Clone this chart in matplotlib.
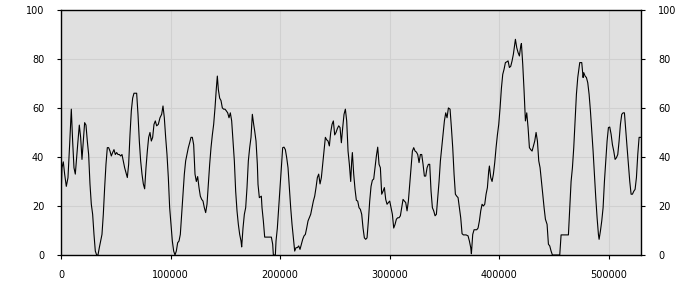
import numpy as np
import matplotlib
matplotlib.use("Agg")
import matplotlib.pyplot as plt

# Positions along the x axis (thousands) and the plotted value
x_k = [0, 0.91, 2.13, 3.35, 4.87, 6.39, 7.91, 9.44, 10.65, 11.87, 13.09, 14.30, 15.52, 16.74, 17.96,
       19.18, 20.39, 21.61, 22.83, 24.05, 25.26, 26.48, 27.70, 28.92, 30.14, 31.35, 32.57, 33.79, 35.01,
       36.22, 37.44, 38.66, 39.88, 41.09, 42.31, 43.53, 44.75, 45.96, 47.18, 48.40, 49.62, 50.83, 52.05,
       53.27, 54.49, 55.70, 56.92, 58.14, 59.36, 60.58, 61.79, 63.01, 64.23, 65.45, 66.66, 67.88, 69.10,
       70.32, 71.53, 72.75, 73.97, 75.19, 76.40, 77.62, 78.84, 80.06, 81.27, 82.49, 83.71, 84.93, 86.14,
       87.36,
       88.88, 90.41, 91.93, 93.15, 94.36, 95.58, 96.80, 98.02, 99.23, 100.45, 101.67, 102.89, 104.10,
       105.32, 106.54, 107.76, 108.97, 110.19, 111.41, 112.63, 113.84, 115.06, 116.28, 117.50, 118.72,
       119.93, 121.15, 122.37, 123.59, 124.80, 126.02, 127.24, 128.46, 129.67, 130.89, 132.11, 133.33,
       134.54, 135.76, 136.98, 138.20, 139.41, 140.63, 141.85, 142.76, 143.68, 144.89, 146.11, 147.33,
       148.55, 149.76, 150.98, 152.20, 153.42, 154.63, 155.85, 157.07, 158.29, 159.50, 160.72, 161.94,
       163.16, 164.38, 164.98, 166.20, 167.42, 168.64, 169.85, 171.07, 172.29, 173.51, 174.72, 175.94,
       176.86, 178.07, 179.29, 179.90, 181.12, 182.94, 183.55, 184.77, 185.99, 189.64, 192.08, 193.29,
       193.90, 195.73, 196.34, 197.55, 198.77, 199.99, 201.21, 202.42, 203.64, 204.86, 206.08, 207.30,
       208.51, 209.73, 210.95, 212.17, 213.38, 214.60, 215.82, 217.04, 218.25, 219.47, 220.69, 221.91,
       223.12, 224.34, 225.56, 226.78, 227.99, 229.21, 230.43, 231.65, 232.86, 234.08, 235.30, 236.52,
       237.74, 238.95, 240.17, 241.39, 242.61, 243.82, 245.04, 246.26, 247.48, 248.69, 249.91, 251.13,
       252.35, 253.56, 254.78, 256.00, 257.22, 258.43, 259.65, 260.87, 262.09, 263.30, 264.52,
       265.44, 266.04, 267.26, 268.48, 269.70, 270.91, 272.13, 273.35, 274.57, 275.78, 277.00, 278.22,
       279.44, 280.66, 281.87, 283.09, 284.31, 285.53, 286.74, 287.96, 289.18, 290.40, 291.61, 292.83,
       294.05, 295.27, 296.48, 297.70, 298.92, 300.14, 301.35, 302.57, 303.79, 305.01, 306.22, 307.44,
       308.66, 309.88, 311.10, 312.31, 313.53, 314.75, 315.97, 317.18, 318.40, 319.62, 320.84, 322.05,
       323.27, 324.49, 325.71, 326.92, 328.14, 329.36, 330.58, 331.79, 333.01, 334.23, 335.45, 336.66,
       337.88, 339.10, 340.32, 341.54, 342.75, 343.97, 345.19, 346.41, 347.62, 348.84, 350.06, 351.28,
       352.49, 353.71,
       355.23, 356.45, 357.67, 358.89, 360.10, 361.32, 362.54, 363.76, 364.97, 366.19, 367.41, 369.84,
       371.67, 372.89, 374.11, 374.71, 375.93, 377.15, 379.58, 380.80, 382.02, 383.24, 384.46, 385.67,
       386.89, 388.11, 389.33, 390.54, 391.15, 392.37, 393.59, 394.80, 396.02, 397.24, 398.46, 399.68,
       400.89, 402.11, 403.33, 404.55, 405.76, 406.98, 408.20, 409.42, 410.63, 411.85, 413.07, 414.29,
       414.90, 416.11, 417.33, 418.55, 419.77, 420.38, 421.59, 422.81, 424.03, 425.25, 426.46, 427.68,
       428.90, 430.12, 431.33, 432.55, 433.77, 434.99, 436.21, 437.42, 438.64, 439.86, 441.08, 442.29,
       443.81, 445.03, 446.25, 447.47, 448.68, 455.38, 456.60, 463.29, 464.51, 465.73, 466.95, 468.16,
       469.38, 470.60, 471.82, 473.04, 473.64, 475.47, 476.69, 477.30, 478.52, 479.73, 480.95, 482.17,
       483.39, 484.60, 485.82, 487.04, 488.26, 489.47, 490.69, 491.30, 492.52, 493.73, 494.95, 496.17,
       497.39, 498.60, 499.82, 501.04, 502.26, 503.48, 504.69, 505.91, 507.13, 508.35, 509.56, 510.78,
       512.00, 513.22, 514.43, 515.65, 516.87, 518.09, 519.30, 520.52, 521.74, 522.96, 524.17, 525.39,
       526.61, 527.83, 529.50]

values = [22, 35.6, 38, 33, 28, 31.5, 45, 59.5, 46.5, 35.6, 33, 40, 46.5, 53, 48,
          39, 46.5, 54, 53, 46.5, 41, 29, 20.7, 16.6, 8.4, 1.6, 0, 0, 3,
          5.7, 8.4, 16.6, 27.5, 37, 43.8, 43.8, 42.4, 40.4, 41.8, 43, 41, 41.8, 41,
          41, 40.4, 41, 38.4, 35.6, 33.6, 31.6, 37, 49, 58.8, 64, 66, 66, 66,
          57.4, 46.5, 38.4, 33, 29, 27, 35.6, 42.4, 48, 50, 46.5, 48, 53.3, 54.7,
          52.7,
          53.3, 56, 57.4, 60.8, 56, 48, 41, 31.6, 19.3, 12.5, 5.7, 1.6, 0,
          1.6, 5, 5.7, 8.4, 16.6, 24.8, 33, 38.4, 41, 43.8, 45.8, 48,
          48, 45, 33, 30, 32, 27.5, 24, 22.7, 22, 19.3, 17.3, 20.7,
          29, 37, 43.8, 49, 53.3, 60, 68, 73, 67.5, 64, 63, 60,
          59.5, 59.5, 58.8, 58, 56, 58, 54.7, 46.5, 38.4, 26, 18, 12.5,
          8.4, 5.7, 3.3, 11, 16.6, 19.3, 27.5, 38.4, 43.8, 48, 57.4, 53.3,
          50.6, 46.5, 37, 28.8, 23.4, 24, 19.3, 13.9, 7.3, 7.3, 7.3, 4.4,
          0, 0, 5.7, 11, 19.3, 27.5, 35.6, 43.8, 44, 43, 39.7, 35.6,
          27.5, 19.3, 12.5, 7, 1.6, 3, 3, 3.7, 2.3, 4.4, 6.4, 7.8,
          8.4, 11, 13.9, 15.2, 16.6, 19.3, 22, 24, 27.5, 31.6, 33, 29,
          31.6, 37, 42.4, 48, 47, 46.5, 44.5, 50, 53.3, 54.7, 49, 50,
          51.6, 52.7, 52, 45.8, 52, 57.4, 59.5, 54.7, 42.4, 37, 30,
          38.4, 41.8, 33, 26.8, 22.3, 22, 19.3, 18.6, 16.6, 11, 7, 6.4,
          7, 13.9, 22, 28, 30.5, 31, 35.6, 40.4, 44, 37, 35.6, 24.8,
          26, 27.5, 22.7, 20.7, 21.4, 22, 19.3, 16.6, 11, 12.5, 14.6, 15.2,
          15.2, 16, 19.3, 22.7, 22, 21.4, 18, 22, 29, 35.6, 42.4, 43.8,
          42.4, 42, 41, 37.7, 41, 41, 37, 32.2, 32.2, 35.6, 37, 37,
          26, 19.3, 18, 16, 16.6, 23.4, 30, 38.4, 43.8, 49, 54.7, 58,
          56, 60,
          59.5, 52, 43.8, 33, 24.8, 24, 23.4, 19.3, 15.2, 8.7, 8.2, 8.2,
          7.8, 5.7, 3, 0.5, 8.4, 10.3, 10.3, 11, 13.9, 18, 20.7, 20,
          20.7, 24.8, 27.5, 34.3, 36.3, 31.6, 30, 33, 37.7, 43.8, 49, 53.3,
          60, 68, 73.7, 75.8, 78.5, 78.8, 79.2, 76.5, 77, 79.2, 82, 86,
          88, 84.6, 82.6, 81.2, 85.3, 86.3, 77.8, 67, 54.7, 58, 52, 43.8,
          43, 42.4, 44.5, 46.5, 50, 46.5, 38.4, 35.6, 30, 24.8, 19.3, 14.6,
          12.5, 4.4, 3.7, 1.6, 0, 0, 8.2, 8.2, 19.3, 30, 35.6, 43.8,
          54.7, 65.6, 72.4, 76.5, 78.5, 78.5, 72.4, 74.4, 73, 72.4, 70.3, 65.6,
          58.8, 50.6, 42.4, 33, 23.4, 15.2, 8.4, 6.4, 9.8, 13.9, 19.3, 30,
          38.4, 46.5, 52, 52.2, 49.3, 45, 42.4, 39, 39.7, 41, 46.5, 53.3,
          57.4, 58, 58, 50.6, 43.8, 37, 30, 24.8, 24.8, 26, 26.8, 31.6,
          41, 48, 48]

x_ticks = [0, 100000, 200000, 300000, 400000, 500000]
y_ticks = [0, 20, 40, 60, 80, 100]

x = np.array(x_k) * 1000

fig = plt.figure(figsize=(7, 3), dpi=100)
ax = fig.add_axes([0.0871, 0.15, 0.8293, 0.817])
ax.set_facecolor("#e0e0e0")
ax.plot(x, values, color="black", linewidth=0.8)

ax.set_xlim(0, 530000)
ax.set_ylim(0, 100)
ax.set_xticks(x_ticks)
ax.set_xticklabels([str(t) for t in x_ticks])
ax.set_yticks(y_ticks)
ax.grid(True, color="#d0d0d0", linewidth=0.8)
ax.set_axisbelow(True)

for s in ax.spines.values():
    s.set_color("black")
    s.set_linewidth(1.0)

ax.tick_params(axis="both", direction="out", length=3, width=0.8, labelsize=7, colors="black")
ax.tick_params(axis="y", right=True, labelright=True, pad=9)
ax.tick_params(axis="x", pad=8)

fig.savefig("out.png", dpi=100)
